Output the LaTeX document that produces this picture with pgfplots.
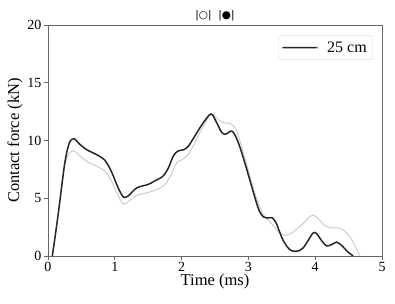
\documentclass[border=0pt]{standalone}
\usepackage{fontspec}
\setmainfont{Liberation Serif}
\newfontfamily\symfont{DejaVu Sans}
\usepackage{pgfplots}
\pgfplotsset{compat=1.18}
\begin{document}
\begin{tikzpicture}
\begin{axis}[
  name=ax,
  scale only axis,
  width=334bp, height=231bp,
  xmin=0, xmax=5, ymin=0, ymax=20,
  xtick={0,1,2,3,4,5}, ytick={0,5,10,15,20},
  tick pos=left, tick align=outside,
  major tick length=4bp,
  axis line style={gray!80!black, line width=0.8pt},
  every tick/.style={gray!80!black, line width=0.8pt},
  /pgf/number format/assume math mode=true,
  tick label style={font=\fontsize{14bp}{16bp}\selectfont},
  xticklabel style={yshift=1.5bp},
  yticklabel style={xshift=1bp},
  label style={font=\fontsize{16.5bp}{19bp}\selectfont},
  xlabel={Time (ms)}, ylabel={Contact force (kN)},
  xlabel style={yshift=4bp},
  ylabel style={yshift=-2bp},
  title={\symfont\fontsize{10.5bp}{12bp}\selectfont |○|\ \ |●|},
  title style={yshift=-5bp},
  legend cell align=left,
  legend style={draw=gray!25, rounded corners=2bp, font=\fontsize{16bp}{18bp}\selectfont, inner xsep=4bp, inner ysep=4bp, at={(0.973,0.955)}, anchor=north east, /tikz/column 1/.style={column sep=8bp}},
  legend image code/.code={\fill[black!85, draw=none] (0bp,-0.8bp) rectangle (35bp,0.8bp);},
]
\addplot[gray!40, line width=1pt, smooth, forget plot] coordinates {
(0.065,0) (0.15,3.5) (0.25,7.8) (0.32,8.9) (0.39,9.1) (0.47,8.7) (0.58,8.2) (0.72,7.8) (0.85,7.35) (0.95,6.5) (1.05,5.2) (1.13,4.5) (1.2,4.7) (1.33,5.25) (1.5,5.5) (1.65,5.8) (1.75,6.2) (1.83,6.9) (1.93,8.1) (2.0,8.3) (2.1,8.8) (2.2,9.8) (2.32,11.2) (2.45,12.3) (2.55,11.8) (2.65,11.5) (2.72,11.5) (2.82,10.9) (2.92,9.0) (3.02,7.0) (3.12,5.0) (3.22,3.6) (3.3,3.1) (3.38,2.6) (3.45,2.1) (3.55,1.8) (3.65,2.0) (3.8,2.7) (3.9,3.3) (3.97,3.55) (4.05,3.2) (4.15,2.6) (4.22,2.45) (4.37,2.4) (4.47,2.0) (4.55,1.4) (4.62,0.6) (4.67,0)
};
\addplot[black!85, line width=1.5pt, smooth] coordinates {
(0.065,0) (0.15,3.5) (0.25,8.0) (0.32,9.8) (0.39,10.15) (0.47,9.7) (0.58,9.2) (0.72,8.8) (0.85,8.3) (0.95,7.3) (1.05,5.9) (1.13,5.1) (1.2,5.2) (1.33,5.9) (1.5,6.2) (1.63,6.6) (1.72,6.9) (1.8,7.6) (1.88,8.7) (1.95,9.1) (2.03,9.2) (2.1,9.5) (2.2,10.4) (2.32,11.5) (2.44,12.3) (2.52,11.6) (2.6,10.7) (2.66,10.55) (2.76,10.8) (2.85,9.8) (2.95,8.0) (3.05,6.0) (3.15,4.1) (3.22,3.4) (3.3,3.3) (3.36,3.3) (3.42,2.8) (3.5,1.6) (3.58,0.8) (3.65,0.45) (3.74,0.43) (3.82,0.7) (3.9,1.4) (3.97,2.0) (4.02,1.95) (4.1,1.3) (4.17,0.87) (4.25,1.0) (4.32,1.2) (4.4,0.9) (4.48,0.4) (4.57,0)
};
\addlegendentry{25 cm}
\end{axis}
\pgfresetboundingbox
\useasboundingbox ([xshift=-48bp,yshift=-48bp]ax.south west) rectangle ([xshift=13bp,yshift=25bp]ax.north east);
\end{tikzpicture}
\end{document}
